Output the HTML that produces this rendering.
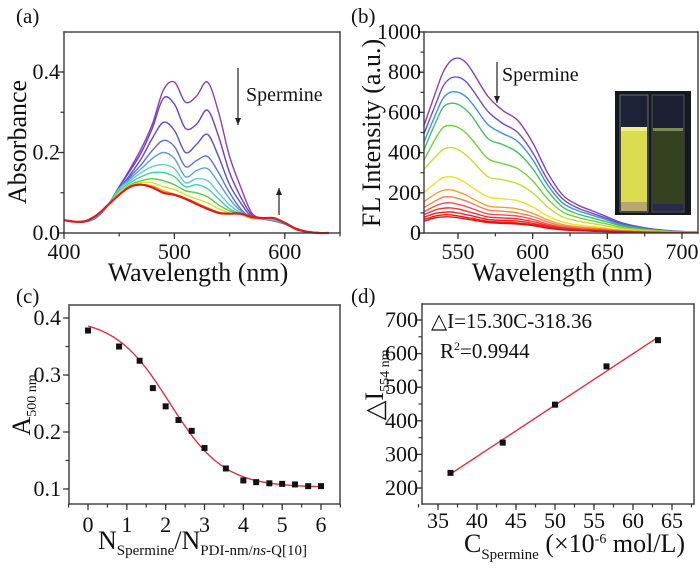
<!DOCTYPE html>
<html><head><meta charset="utf-8">
<style>
html,body{margin:0;padding:0;background:#fff;}
svg{display:block;}
text{font-family:"Liberation Serif",serif;}
</style></head>
<body>
<svg id="fig" width="700" height="569" viewBox="0 0 700 569" xmlns="http://www.w3.org/2000/svg" font-family="Liberation Serif, serif"></svg>
<script>
// ---------- Panel (a) data ----------
const aWl = [400,410,420,430,440,450,460,470,480,490,500,510,520,530,540,550,560,570,580,590,600,610,620,630,640];
const aC1 = [.032,.028,.028,.04,.07,.115,.16,.21,.27,.355,.375,.325,.34,.375,.30,.19,.115,.05,.037,.034,.026,.012,.004,.001,0];
const aC2 = [.032,.028,.028,.04,.07,.115,.155,.20,.26,.335,.32,.26,.27,.305,.24,.15,.09,.045,.036,.033,.024,.011,.004,.001,0];
const aC3 = [.032,.028,.028,.04,.07,.11,.145,.185,.235,.275,.255,.20,.22,.245,.19,.12,.075,.04,.035,.03,.022,.01,.004,.001,0];
const aC4 = [.032,.028,.028,.04,.07,.11,.14,.17,.205,.23,.215,.165,.18,.19,.15,.10,.06,.038,.035,.031,.023,.01,.004,.001,0];
const aC5 = [.032,.028,.028,.042,.07,.11,.135,.16,.185,.20,.185,.14,.155,.16,.125,.085,.055,.037,.035,.032,.023,.01,.003,.001,0];
const aC6 = [.032,.028,.029,.043,.07,.11,.13,.15,.165,.17,.16,.125,.135,.13,.10,.07,.05,.036,.036,.033,.024,.01,.003,0,0];
const aC7 = [.032,.028,.029,.044,.07,.105,.125,.14,.15,.15,.14,.115,.12,.11,.085,.06,.048,.036,.036,.034,.024,.01,.003,0,0];
const aC8 = [.032,.028,.03,.045,.07,.10,.12,.13,.135,.13,.12,.105,.10,.09,.07,.055,.047,.036,.037,.035,.025,.01,.003,0,0];
const aC9 = [.032,.028,.03,.045,.07,.10,.118,.125,.125,.115,.108,.095,.085,.075,.06,.05,.046,.037,.037,.036,.025,.01,.003,0,0];
const aC10 = [.032,.028,.03,.045,.07,.095,.115,.12,.117,.105,.097,.087,.075,.063,.052,.048,.047,.037,.037,.037,.025,.01,.003,0,0];
const aC11 = [.032,.028,.03,.045,.07,.095,.115,.12,.113,.10,.095,.085,.072,.06,.05,.048,.048,.04,.037,.037,.025,.01,.003,0,0];
const aSeries = [aC1,aC2,aC3,aC4,aC5,aC6,aC7,aC8,aC9,aC10,aC11];
const aColors = ["#8b3fb0","#6d3fc9","#5a4fd6","#5a70dc","#5aa0e0","#60c8d8","#40d0a0","#50d040","#d8e020","#f0a020","#e01818"];
const aXTicks = [400,500,600];
const aYTicks = [0.0,0.2,0.4];
const aYLabels = ["0.0","0.2","0.4"];

// ---------- Panel (b) data ----------
const bWl = [527,535,540,545,550,555,560,570,580,590,600,610,620,630,640,650,660,680,700,710];
const bC1 = [530,700,800,855,870,850,800,680,610,560,450,300,190,140,110,80,50,20,8,5];
const bC2 = [490,640,730,770,775,755,710,605,545,500,400,265,170,125,98,72,45,18,7,5];
const bC3 = [450,590,670,700,700,680,640,540,495,455,365,240,150,112,88,65,40,16,7,5];
const bC4 = [410,550,625,645,640,615,575,470,440,400,320,210,130,95,75,55,35,14,6,4];
const bC5 = [360,470,525,535,525,500,460,370,345,320,260,170,105,78,60,45,28,12,5,4];
const bC6 = [315,380,415,425,415,390,355,280,265,245,200,130,80,60,47,35,22,10,4,3];
const bC7 = [200,250,275,280,270,250,225,180,170,160,130,85,55,40,32,24,15,7,3,2];
const bC8 = [155,195,212,215,205,190,170,135,128,120,98,65,42,31,25,19,12,6,3,2];
const bC9 = [125,160,178,180,172,160,145,115,108,100,82,55,35,26,21,16,10,5,2,2];
const bC10 = [105,135,148,150,143,133,120,95,90,84,68,45,29,22,18,13,9,4,2,1];
const bC11 = [90,115,123,125,120,110,100,80,75,70,57,38,25,18,15,11,7,3,2,1];
const bC12 = [78,98,103,105,100,92,84,67,63,59,48,32,21,15,12,9,6,3,1,1];
const bC13 = [68,85,90,90,85,78,72,58,54,50,41,27,18,13,10,8,5,2,1,1];
const bC14 = [58,76,80,80,76,70,64,52,48,45,37,24,16,12,9,7,4,2,1,1];
const bSeries = [bC1,bC2,bC3,bC4,bC5,bC6,bC7,bC8,bC9,bC10,bC11,bC12,bC13,bC14];
const bColors = ["#8b3fb0","#6a4fd0","#3f90e0","#40c060","#70d040","#c0e030","#f0e020","#f0a030","#f08050","#f05050","#f03030","#f02020","#e81818","#e01010"];
const bXTicks = [550,600,650,700];
const bYTicks = [0,200,400,600,800,1000];

// ---------- Panel (c) data ----------
const cX = [0,0.8,1.33,1.67,2,2.33,2.67,3,3.55,4,4.33,4.67,5,5.33,5.67,6];
const cY = [0.378,0.350,0.325,0.277,0.245,0.221,0.202,0.172,0.136,0.115,0.112,0.110,0.109,0.108,0.105,0.105];
const cFitParams = [0.40,0.103,2.1,0.7]; // Boltzmann A1, A2, x0, dx
const cXTicks = [0,1,2,3,4,5,6];
const cYTicks = [0.1,0.2,0.3,0.4];

// ---------- Panel (d) data ----------
const dX = [36.6,43.3,50.0,56.6,63.2];
const dY = [245,335,448,562,640];
const dFit = [15.30,-318.36];
const dXTicks = [35,40,45,50,55,60,65];
const dYTicks = [200,300,400,500,600,700];

const NS = "http://www.w3.org/2000/svg";
const svg = document.getElementById("fig");
const FONT = "Liberation Serif, serif";
function mk(tag, attrs, parent){
  const e = document.createElementNS(NS, tag);
  for (const k in attrs) e.setAttribute(k, attrs[k]);
  (parent||svg).appendChild(e);
  return e;
}
function scale(d0,d1,r0,r1){ return v => r0 + (v-d0)*(r1-r0)/(d1-d0); }
function txt(x,y,s,size,anchor,parent){
  const t = mk("text",{x:x,y:y,"font-size":size,"font-family":FONT,"text-anchor":anchor||"start",fill:"#111"},parent);
  t.textContent = s; return t;
}
// frame drawn as filled rects
function frame(g,L,T,R,B){
  const f = mk("g",{},g);
  
  
  const w=1.4, c="#3a3a3a";
  mk("rect",{x:L-w/2,y:T-w/2,width:R-L+w,height:w,fill:c},f);
  mk("rect",{x:L-w/2,y:B-w/2,width:R-L+w,height:w,fill:c},f);
  mk("rect",{x:L-w/2,y:T-w/2,width:w,height:B-T+w,fill:c},f);
  mk("rect",{x:R-w/2,y:T-w/2,width:w,height:B-T+w,fill:c},f);
}
function hTick(g,x,y,len){ mk("rect",{x:x-len,y:y-0.6,width:len,height:1.2,fill:"#333"},g); }
function vTick(g,x,y,len){ mk("rect",{x:x-0.6,y:y,width:1.2,height:len,fill:"#333"},g); }
function xTicks(g,xs,ticks,labels,B,ly,minorStep,d0,d1){
  ticks.forEach((v,i)=>{
    const x = xs(v);
    vTick(g,x,B,6);
    const t = txt(x,ly,labels?labels[i]:String(v),22,"middle",g);
    
    
  });
  if(minorStep){ for(let v=d0; v<=d1+1e-9; v+=minorStep){ vTick(g,xs(v),B,3.5);} }
}
function yTicks(g,ys,ticks,labels,L,lx,minorStep,d0,d1){
  ticks.forEach((v,i)=>{
    const y = ys(v);
    hTick(g,L,y,6);
    const t = txt(lx,y+7,labels?labels[i]:String(v),22,"end",g);
    
    
  });
  if(minorStep){ for(let v=d0; v<=d1+1e-9; v+=minorStep){ hTick(g,L,ys(v),3.5);} }
}
function smoothPath(xsArr,ysArr,xs,ys){
  const p = xsArr.map((v,i)=>[xs(v),ys(ysArr[i])]);
  let d = "M"+p[0][0].toFixed(1)+","+p[0][1].toFixed(1);
  for(let i=0;i<p.length-1;i++){
    const p0=p[i-1]||p[i], p1=p[i], p2=p[i+1], p3=p[i+2]||p2;
    const c1=[p1[0]+(p2[0]-p0[0])/6, p1[1]+(p2[1]-p0[1])/6];
    const c2=[p2[0]-(p3[0]-p1[0])/6, p2[1]-(p3[1]-p1[1])/6];
    d += " C"+c1[0].toFixed(1)+","+c1[1].toFixed(1)+" "+c2[0].toFixed(1)+","+c2[1].toFixed(1)+" "+p2[0].toFixed(1)+","+p2[1].toFixed(1);
  }
  return d;
}
function arrow(g,x,y1,y2){
  mk("path",{d:`M${x},${y1} L${x},${y2}`,stroke:"#222","stroke-width":1.2,fill:"none"},g);
  const dir = y2>y1?1:-1;
  mk("polygon",{points:`${x-3},${y2-7*dir} ${x+3},${y2-7*dir} ${x},${y2}`,fill:"#222"},g);
}

// ===== Panel (a) =====
(function(){
  const g = mk("g",{});
  
  
  const L=64,R=340,T=32,B=233;
  const xs = scale(400,650,L,R);
  const ysA = scale(0,0.4,233,72);
  aSeries.forEach((s,i)=>{
    const p = mk("path",{d:smoothPath(aWl,s,xs,ysA),fill:"none",stroke:aColors[i],"stroke-width":i===aSeries.length-1?2.2:1.4},g);
    
    
  });
  frame(g,L,T,R,B);
  xTicks(g,xs,aXTicks,null,B,259,50,400,650);
  yTicks(g,ysA,aYTicks,aYLabels,L,60,0.1,0,0.45);
  const lab = txt(16,23,"(a)",21,"start",g);
   
  const xt = txt(198,281,"Wavelength (nm)",26,"middle",g);
   
  const yt = txt(0,0,"Absorbance",26,"middle",g);
  yt.setAttribute("transform","translate(26,142) rotate(-90)");
   
  arrow(g,238,68,125);
  arrow(g,279,215,188);
  const sp = txt(246,101,"Spermine",20,"start",g);
   
})();

// ===== Panel (b) =====
(function(){
  const g = mk("g",{});
  
  
  const L=424,R=698,T=32,B=233;
  const xs = scale(550,700,458,682), ys = scale(0,1000,B,T);
  bSeries.forEach((s,i)=>{
    const p = mk("path",{d:smoothPath(bWl,s,xs,ys),fill:"none",stroke:bColors[i],"stroke-width":1.4},g);
    
    
  });
  mk("rect",{x:R+1,y:T-2,width:10,height:B-T+4,fill:"#fff"},g);
  frame(g,L,T,R,B);
  xTicks(g,xs,bXTicks,null,B,259,25,550,700);
  yTicks(g,ys,bYTicks,null,L,421,100,0,1000);
  const lab = txt(351,23,"(b)",21,"start",g);
   
  const xt = txt(562,281,"Wavelength (nm)",26,"middle",g);
   
  const yt = txt(0,0,"FL Intensity (a.u.)",26,"middle",g);
  yt.setAttribute("transform","translate(380,133) rotate(-90)");
   
  arrow(g,497,62,103);
  const sp = txt(502,81,"Spermine",20,"start",g);
   
  const ins = mk("g",{},g);
  
  
  mk("rect",{x:615,y:91,width:76,height:124,fill:"#141820"},ins);
  mk("rect",{x:620,y:95,width:28,height:117,fill:"#1c2238",stroke:"#707060","stroke-width":1},ins);
  mk("rect",{x:621,y:127,width:26,height:77,fill:"#dcdc50"},ins);
  mk("rect",{x:621,y:127,width:26,height:4,fill:"#f0f08a"},ins);
  mk("rect",{x:621,y:202,width:26,height:9,fill:"#b8a870"},ins);
  mk("rect",{x:652,y:95,width:32,height:117,fill:"#1c2032",stroke:"#555550","stroke-width":1},ins);
  mk("rect",{x:653,y:128,width:30,height:77,fill:"#34421f"},ins);
  mk("rect",{x:653,y:128,width:30,height:3,fill:"#7a8a50"},ins);
  mk("rect",{x:653,y:204,width:30,height:7,fill:"#2a2a50"},ins);
})();

// ===== Panel (c) =====
(function(){
  const g = mk("g",{});
  
  
  const L=69,R=340,T=305,B=504;
  const xs = scale(0,6,88,321), ys = scale(0.1,0.4,489,318);
  const [A1,A2,x0,dx] = cFitParams;
  let d="";
  for(let k=0;k<=120;k++){
    const x = 6*k/120;
    const y = A2 + (A1-A2)/(1+Math.exp((x-x0)/dx));
    d += (k?"L":"M")+xs(x).toFixed(1)+","+ys(y).toFixed(1);
  }
  const fit = mk("path",{d:d,fill:"none",stroke:"#e03040","stroke-width":1.4},g);
   
  cX.forEach((x,i)=>{
    const r = mk("rect",{x:xs(x)-3,y:ys(cY[i])-3,width:6,height:6,fill:"#111"},g);
     
  });
  frame(g,L,T,R,B);
  xTicks(g,xs,cXTicks,null,B,532,0.5,-0.5,6.5);
  yTicks(g,ys,cYTicks,null,L,61,0.05,0.1,0.4);
  const lab = txt(16,303,"(c)",21,"start",g);
   
  const xt = mk("text",{x:98,y:549,"font-size":26,"font-family":FONT,fill:"#111"},g);
   
  xt.innerHTML = 'N<tspan font-size="15" dy="6">Spermine</tspan><tspan dy="-6">/N</tspan><tspan font-size="15" dy="6">PDI-nm/<tspan font-style="italic">ns</tspan>-Q[10]</tspan>';
  const yt = mk("text",{"font-size":26,"font-family":FONT,fill:"#111","text-anchor":"middle"},g);
  yt.setAttribute("transform","translate(30,405) rotate(-90)");
   
  yt.innerHTML = 'A<tspan font-size="14" dy="6">500 nm</tspan>';
})();

// ===== Panel (d) =====
(function(){
  const g = mk("g",{});
  
  
  const L=422,R=694,T=304,B=504;
  const xs = scale(35,65,438,672), ys = scale(200,700,488,320);
  const [k,b] = dFit;
  const x1=dX[0], x2=dX[dX.length-1];
  const ln = mk("path",{d:`M${xs(x1)},${ys(k*x1+b)} L${xs(x2)},${ys(k*x2+b)}`,stroke:"#e03040","stroke-width":1.4,fill:"none"},g);
   
  dX.forEach((x,i)=>{
    const r = mk("rect",{x:xs(x)-3,y:ys(dY[i])-3,width:6,height:6,fill:"#111"},g);
     
  });
  frame(g,L,T,R,B);
  xTicks(g,xs,dXTicks,null,B,528,2.5,32.5,67.5);
  yTicks(g,ys,dYTicks,null,L,418,50,200,700);
  const lab = txt(351,303,"(d)",21,"start",g);
   
  const eq = txt(431,328,"△I=15.30C-318.36",21,"start",g);
   
  const r2 = mk("text",{x:440,y:358,"font-size":21,"font-family":FONT,fill:"#111"},g);
   
  r2.innerHTML = 'R<tspan font-size="12" dy="-8">2</tspan><tspan dy="8">=0.9944</tspan>';
  const xt = mk("text",{x:464,y:552,"font-size":26,"font-family":FONT,fill:"#111"},g);
   
  xt.innerHTML = 'C<tspan font-size="15" dy="7">Spermine</tspan><tspan dy="-7"> (×10</tspan><tspan font-size="14" dy="-9">-6</tspan><tspan dy="9"> mol/L)</tspan>';
  const yt = mk("text",{"font-size":26,"font-family":FONT,fill:"#111","text-anchor":"middle"},g);
  yt.setAttribute("transform","translate(383,385) rotate(-90)");
   
  yt.innerHTML = '△I<tspan font-size="14" dy="6">554 nm</tspan>';
})();
</script>
</body></html>
